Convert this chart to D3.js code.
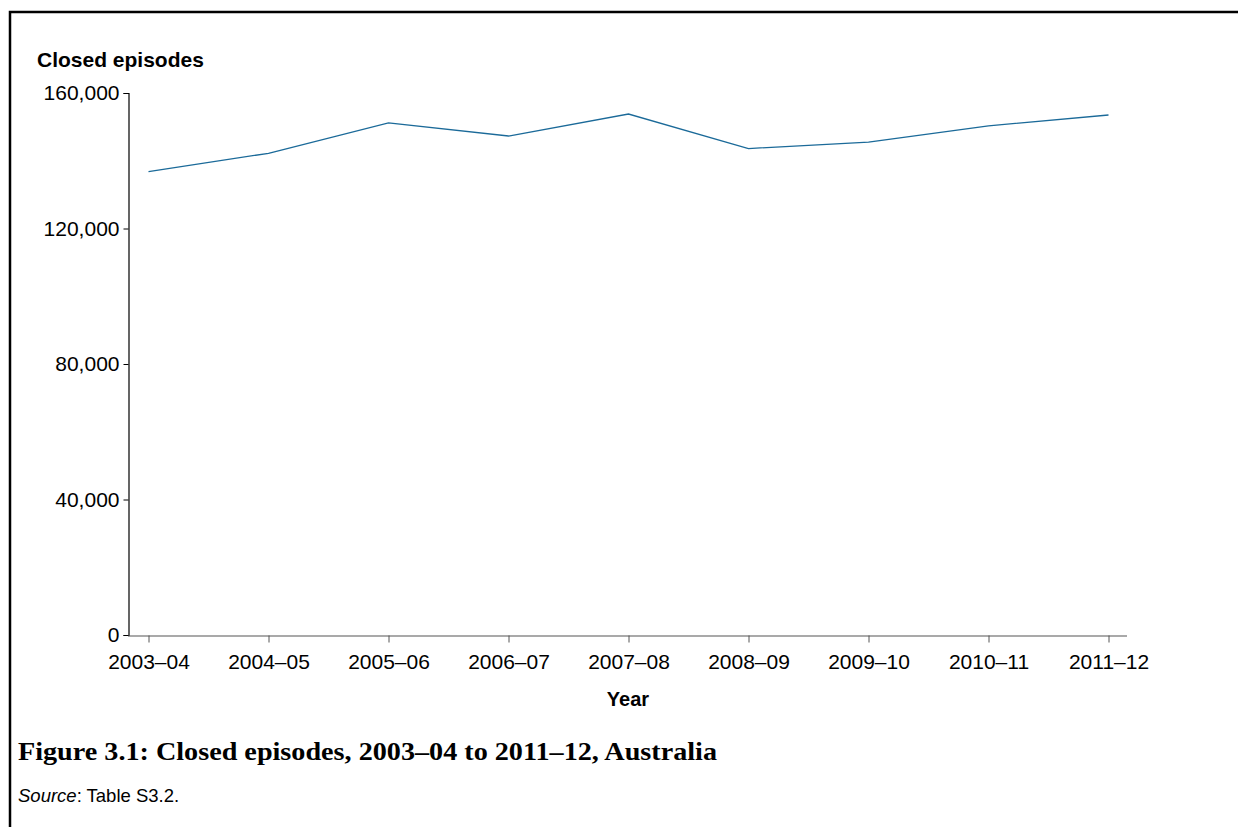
<!DOCTYPE html>
<html>
<head>
<meta charset="utf-8">
<script src="https://cdn.jsdelivr.net/npm/d3@7"></script>
<style>
  html, body { margin: 0; padding: 0; background: #fff; }
  svg { display: block; }
</style>
</head>
<body>
<svg id="chart" width="1238" height="827"></svg>
<script>
const years = ["2003–04","2004–05","2005–06","2006–07","2007–08","2008–09","2009–10","2010–11","2011–12"];
const closedEpisodes = [136800, 142200, 151200, 147300, 153800, 143600, 145500, 150300, 153500];
const yTicks = [0, 40000, 80000, 120000, 160000];
const yTitle = "Closed episodes";
const xTitle = "Year";
const captionText = "Figure 3.1: Closed episodes, 2003–04 to 2011–12, Australia";

const svg = d3.select("#chart");
const font = "'Liberation Sans', Arial, sans-serif";

// frame
svg.append("path")
  .attr("d", "M10,840 L10,12 L1250,12")
  .attr("fill", "none").attr("stroke", "#000").attr("stroke-width", 2.5);

const x = d3.scalePoint().domain(years).range([148.5, 1108.5]);
const y = d3.scaleLinear().domain([0, 160000]).range([635, 93]);

// y axis
const yAxis = svg.append("g").attr("transform", "translate(128.5,0)")
  .call(d3.axisLeft(y).tickValues(yTicks).tickSizeOuter(0).tickSize(5).tickPadding(4)
    .tickFormat(d3.format(",")));
yAxis.select(".domain").attr("stroke", "#000").attr("stroke-width", 1.2);
yAxis.selectAll(".tick line").attr("stroke", "#000");
yAxis.selectAll(".tick text").attr("font-family", font).attr("font-size", 21).attr("fill", "#000");

// x axis
const xAxis = svg.append("g").attr("transform", "translate(0,635.5)")
  .call(d3.axisBottom(x).tickSizeOuter(0).tickSize(7).tickPadding(12));
xAxis.select(".domain").attr("d", "M128,0.5H1127").attr("stroke", "#555").attr("stroke-width", 1.2);
xAxis.selectAll(".tick line").attr("stroke", "#555");
xAxis.selectAll(".tick text").attr("font-family", font).attr("font-size", 21).attr("fill", "#000");

// line
svg.append("path")
  .datum(closedEpisodes)
  .attr("fill", "none")
  .attr("stroke", "#1b6a99")
  .attr("stroke-width", 1.3)
  .attr("d", d3.line().x((d, i) => x(years[i])).y(d => y(d)));

// titles
svg.append("text").attr("x", 37).attr("y", 67)
  .attr("font-family", font).attr("font-size", 21).attr("font-weight", "bold")
  .text(yTitle);
svg.append("text").attr("x", 628).attr("y", 706).attr("text-anchor", "middle")
  .attr("font-family", font).attr("font-size", 20).attr("font-weight", "bold")
  .text(xTitle);

svg.append("text").attr("x", 18).attr("y", 760)
  .attr("font-family", "'Liberation Serif', 'DejaVu Serif', serif").attr("font-size", 25).attr("font-weight", "bold")
  .attr("textLength", 699).attr("lengthAdjust", "spacingAndGlyphs")
  .text(captionText);

const src = svg.append("text").attr("x", 18).attr("y", 802)
  .attr("font-family", font).attr("font-size", 18.5);
src.append("tspan").attr("font-style", "italic").text("Source");
src.append("tspan").text(": Table S3.2.");
</script>
</body>
</html>
